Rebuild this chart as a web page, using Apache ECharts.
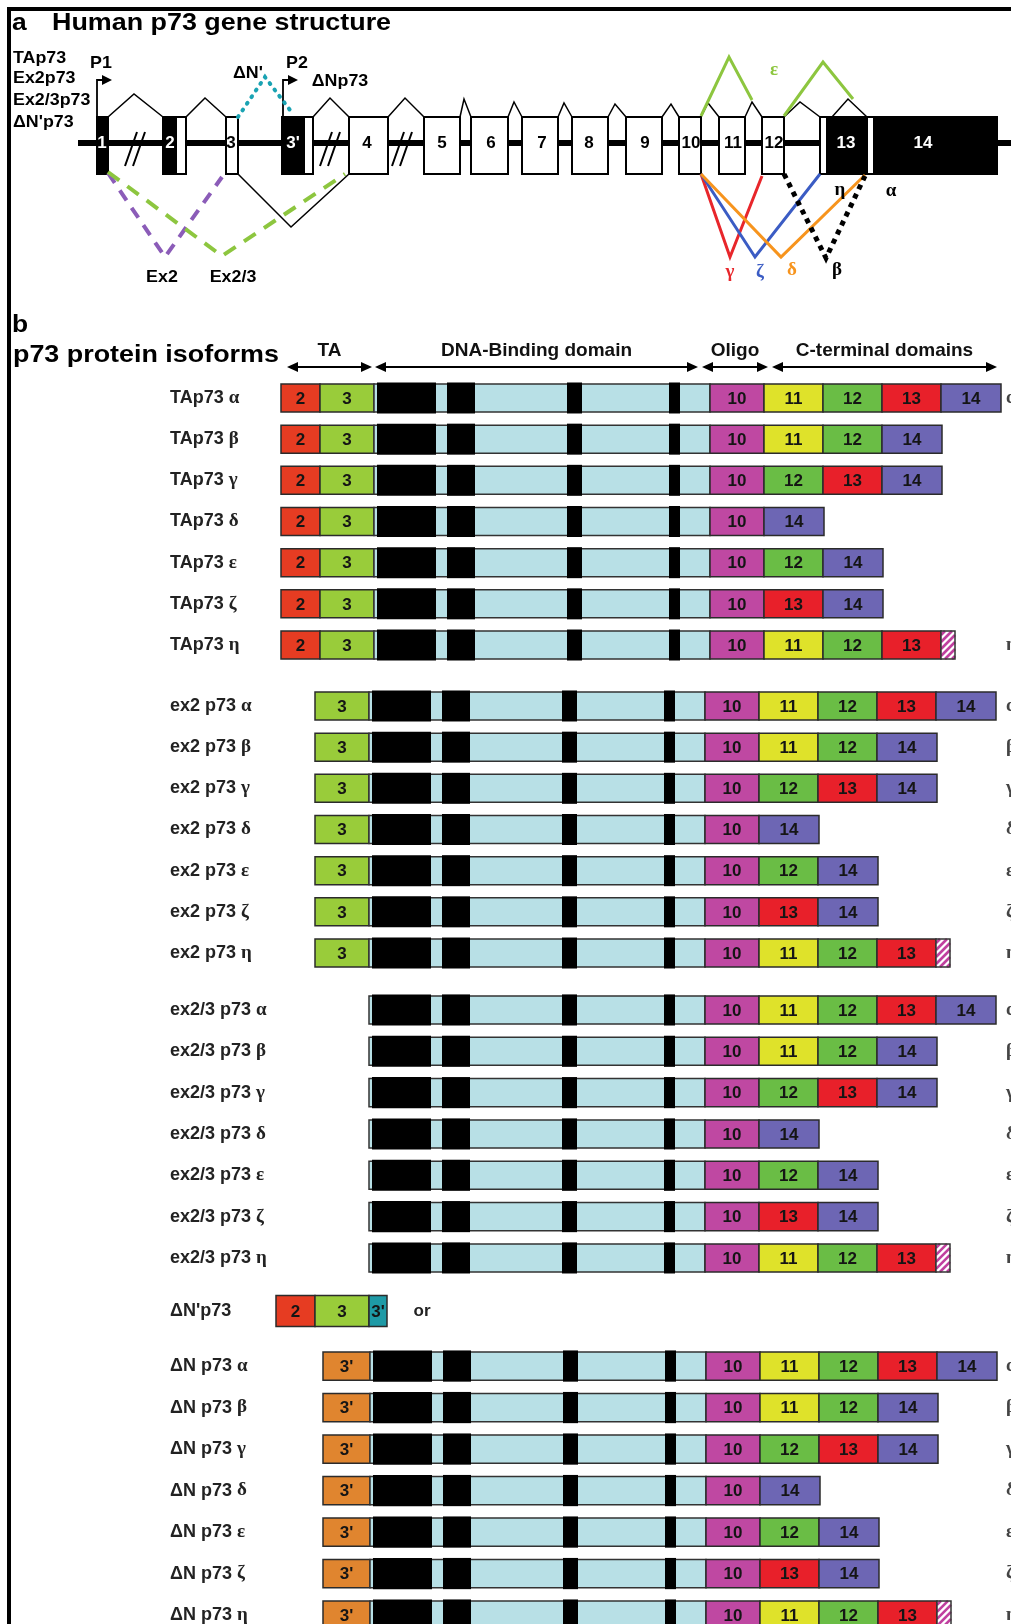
<!DOCTYPE html>
<html><head><meta charset="utf-8">
<script src="https://cdn.jsdelivr.net/npm/echarts@6/dist/echarts.min.js"></script>
<style>html,body{margin:0;padding:0;background:#fff}#c{width:1011px;height:1624px}</style>
</head><body><div id="c"></div>
<script>
// ================= DATA: panel a (gene structure, genomic axis units) =================
const exonNames      = ['1','2','3',"3'",'4','5','6','7','8','9','10','11','12','13','14'];
const exonStart      = [97,163,226,282,349,424,471,522,572,626,679,719,762,820,867];
const exonEnd        = [108,186,238,313,388,460,508,558,608,662,701,745,784,867,997];
const exonCodingFrom = [97,163,null,282,null,null,null,null,null,null,null,null,null,826,873];
const exonCodingTo   = [108,177,null,305,null,null,null,null,null,null,null,null,null,867,997];
const exonLabelAt    = [102,170,231,293,367,442,491,542,589,645,691,733,774,846,923];
// intron chevrons: [from, peak x, peak level, to]
const intronArcs = [[108,134,94,163],[186,205,98,226],[313,330,98,349],[388,405,98,424],[460,464,99,471],
  [508,514,102,522],[558,564,103,572],[608,615,104,626],[662,671,104,679],[701,708,103,719],
  [745,752,102,762],[784,800,102,820],[832,848,99,867]];
const intronBreaks = [135,330,402];
const promoters = ['P1','P2'];
const promoterAt = [97,283];
// alternative splice paths (points on gene axis)
const spliceNames = ["ΔN'",'ε','ε','Ex2','Ex2/3','ΔNp73','γ','ζ','δ','β'];
const splicePaths = [
  [[238,117],[265,77],[293,114]],
  [[701,116],[729,57],[752,100]],
  [[784,116],[823,62],[853,99]],
  [[108,173],[165,257],[222,177]],
  [[108,172],[222,256],[345,174]],
  [[238,174],[291,227],[349,174]],
  [[701,174],[730,257],[762,176]],
  [[701,174],[755,257],[820,174]],
  [[701,174],[781,257],[865,175]],
  [[784,174],[826,258],[865,176]]
];
const geneNotes  = ['TAp73','Ex2p73','Ex2/3p73',"ΔN'p73",'P1','P2',"ΔN'",'ΔNp73','Ex2','Ex2/3','ε','γ','ζ','δ','β','η','α'];
const geneNoteX  = [13,13,13,13,101,297,248,340,162,233,774,730,760,792,837,840,891];
const geneNoteY  = [58,78,100,122,63,63,73,81,277,277,70,272,272,270,270,190,191];

// ================= DATA: panel b (protein isoforms) =================
const greek = ['α','β','γ','δ','ε','ζ','η'];
const cTermExons = [['11','12','13','14'],['11','12','14'],['12','13','14'],['14'],['12','14'],['13','14'],['11','12','13','tail']];
const groupNames = ['TAp73 ','ex2 p73 ','ex2/3 p73 ','ΔN p73 '];
const groupNTerm = [['2','3'],['3'],[],["3'"]];
const groupStart = [281,315,369,323];
const exonLength = {'2':39,'3':54,"3'":47,'3t':18,'DBD':336,'10':54,'11':59,'12':59,'13':59,'14':60,'tail':14};
const dbdMotifFrom = [3,73,193,295];
const dbdMotifTo   = [62,101,208,306];
const dNprimeName = "ΔN'p73";
const dNprimeExons = ['2','3','3t'];
const dNprimeStart = 276;
const headerNames = ['TA','DNA-Binding domain','Oligo','C-terminal domains'];
const headerFrom  = [287,375,702,772];
const headerTo    = [372,698,768,997];
const edgeTagShown = [[1,0,0,0,0,0,1],[1,1,1,1,1,1,1],[1,1,1,1,1,1,1],[1,1,1,1,1,1,1]];

// ================= STYLE =================
const SANS = '"Liberation Sans", Arial, sans-serif';
const SERIF = '"Liberation Serif", "Times New Roman", serif';
const exonColor = {'2':'#e63c22','3':'#99cc3a',"3'":'#e0852f','3t':'#1e9aa6','10':'#bf48a2','11':'#dfe22a','12':'#6abd45','13':'#e8202a','14':'#6d66b4'};
const exonText = {'3t':"3'"};
const DBD_FILL = '#b8e0e6';
const spliceColor = ['#1aa3b3','#8dc63f','#8dc63f','#8b5cb8','#8dc63f','#000','#e8262b','#3b5cc4','#f7941d','#000'];
const spliceWidth = [4,3,3,4,4,1.5,3,3,3,5];
const spliceDash  = [[1,7],null,null,[12,9],[14,10],null,null,null,null,[5,5]];
const noteColor = {'ε':'#8dc63f','γ':'#e8262b','ζ':'#3b5cc4','δ':'#f7941d'};
const EX_TOP = 117, EX_BOT = 174, BB_Y = 143;

function T(x, y, s, font, fill, align, sx) {
  return {type:'text', x:x, y:y, scaleX: sx || 1,
    style:{text:s, font:font, fill:fill || '#000', textAlign: align || 'center', textVerticalAlign:'middle',
      align: align || 'center', verticalAlign:'middle'}};
}

// ---------- build protein rows ----------
function buildSegments(start, nTerm, withCore, cTerm) {
  const segs = []; let x = start;
  const add = t => { segs.push({t:t, x0:x, x1:x + exonLength[t]}); x += exonLength[t]; };
  nTerm.forEach(add);
  if (withCore) { add('DBD'); add('10'); cTerm.forEach(add); }
  return segs;
}
const groupRows = groupNames.map((g, gi) => greek.map((gr, k) => buildSegments(groupStart[gi], groupNTerm[gi], true, cTermExons[k])));
const dNprimeRows = [buildSegments(dNprimeStart, dNprimeExons, false, [])];

function rowRenderer(rows, tags, ratio, trailer) {
  return function (params, api) {
    const r = api.value(1);
    const segs = rows[r];
    const yc = api.coord([0, r])[1];
    const bh = api.size([0, 1])[1] * ratio;
    const y0 = yc - bh / 2;
    const kids = [];
    segs.forEach(s => {
      const xa = api.coord([s.x0, r])[0], xb = api.coord([s.x1, r])[0];
      if (s.t === 'DBD') {
        kids.push({type:'rect', shape:{x:xa, y:y0, width:xb - xa, height:bh}, style:{fill:DBD_FILL, stroke:'#333', lineWidth:1.5}});
        dbdMotifFrom.forEach((m, i) => {
          const ma = api.coord([s.x0 + m, r])[0], mb = api.coord([s.x0 + dbdMotifTo[i], r])[0];
          kids.push({type:'rect', shape:{x:ma, y:y0 - 1.5, width:mb - ma, height:bh + 3}, style:{fill:'#000'}});
        });
      } else if (s.t === 'tail') {
        kids.push({type:'rect', shape:{x:xa, y:y0, width:xb - xa, height:bh}, style:{fill:'#fff'}});
        const yb = y0 + bh;
        for (let c = xa + y0 + 4; c < xb + yb; c += 7) {
          const p = Math.max(xa, c - yb), q = Math.min(xb, c - y0);
          if (q > p) kids.push({type:'line', shape:{x1:p, y1:c - p, x2:q, y2:c - q}, style:{stroke:'#c0409f', lineWidth:2.6}});
        }
        kids.push({type:'rect', shape:{x:xa, y:y0, width:xb - xa, height:bh}, style:{fill:'none', stroke:'#333', lineWidth:1.5}});
      } else {
        kids.push({type:'rect', shape:{x:xa, y:y0, width:xb - xa, height:bh}, style:{fill:exonColor[s.t], stroke:'#2b2b2b', lineWidth:1.5}});
        kids.push(T((xa + xb) / 2, yc + 1, exonText[s.t] || s.t, 'bold 17px ' + SANS, '#151515'));
      }
    });
    if (tags && tags[r]) {
      kids.push(T(api.coord([1006, r])[0], yc, greek[r], 'bold 19px ' + SERIF, '#444', 'left'));
    }
    if (trailer) {
      const last = segs[segs.length - 1];
      kids.push(T(api.coord([last.x1 + 35, r])[0], yc, trailer, 'bold 17px ' + SANS, '#222'));
    }
    return {type:'group', children:kids};
  };
}

function labelFmt(v) {
  const g = v.slice(-1);
  if (greek.indexOf(g) >= 0) return '{n|' + v.slice(0, -1) + '}{g|' + g + '}';
  return '{n|' + v + '}';
}
function catAxis(gi, labels) {
  return {gridIndex:gi, type:'category', inverse:true, data:labels,
    axisLine:{show:false}, axisTick:{show:false}, splitLine:{show:false},
    axisLabel:{inside:true, margin:170, interval:0, formatter:labelFmt,
      rich:{n:{fontFamily:SANS, fontWeight:'bold', fontSize:18, color:'#222'},
            g:{fontFamily:SERIF, fontWeight:'bold', fontSize:19, color:'#222'}}}};
}

// ---------- grids ----------
const grids = [
  {left:0, width:1011, top:0, height:300},
  {left:0, width:1011, top:377.4, height:288.2},
  {left:0, width:1011, top:685.4, height:288.2},
  {left:0, width:1011, top:989.3, height:289.3},
  {left:0, width:1011, top:1290.5, height:41},
  {left:0, width:1011, top:1345.3, height:290.5}
].map(g => Object.assign(g, {outerBoundsMode:'none', containLabel:false}));

const xAxes = grids.map((g, i) => ({gridIndex:i, type:'value', min:0, max:1011, show:false}));
const yAxes = [
  {gridIndex:0, type:'value', min:0, max:300, inverse:true, show:false},
  catAxis(1, greek.map(g => groupNames[0] + g)),
  catAxis(2, greek.map(g => groupNames[1] + g)),
  catAxis(3, greek.map(g => groupNames[2] + g)),
  catAxis(4, [dNprimeName]),
  catAxis(5, greek.map(g => groupNames[3] + g))
];

const series = [];
// backbone
series.push({type:'custom', xAxisIndex:0, yAxisIndex:0, clip:false, data:[[78, 1011]],
  renderItem:(p, api) => {
    const a = api.coord([api.value(0), BB_Y]), b = api.coord([api.value(1), BB_Y]);
    return {type:'line', shape:{x1:a[0], y1:a[1], x2:b[0], y2:b[1]}, style:{stroke:'#000', lineWidth:6}};
  }});
// intron breaks
series.push({type:'custom', xAxisIndex:0, yAxisIndex:0, clip:false, data:intronBreaks.map(v => [v]),
  renderItem:(p, api) => {
    const x = api.coord([api.value(0), 0])[0];
    const y1 = api.coord([0, 166])[1], y2 = api.coord([0, 132])[1];
    return {type:'group', children:[
      {type:'line', shape:{x1:x - 10, y1:y1, x2:x + 2, y2:y2}, style:{stroke:'#000', lineWidth:2}},
      {type:'line', shape:{x1:x - 2, y1:y1, x2:x + 10, y2:y2}, style:{stroke:'#000', lineWidth:2}}]};
  }});
// exons
series.push({type:'custom', xAxisIndex:0, yAxisIndex:0, clip:false,
  data:exonNames.map((n, i) => [exonStart[i], exonEnd[i], i]),
  renderItem:(p, api) => {
    const i = api.value(2);
    const a = api.coord([api.value(0), EX_TOP]), b = api.coord([api.value(1), EX_BOT]);
    const box = {x:a[0], y:a[1], width:b[0] - a[0], height:b[1] - a[1]};
    const kids = [{type:'rect', shape:box, style:{fill:'#fff'}}];
    let white = false;
    if (exonCodingFrom[i] != null) {
      const c = api.coord([exonCodingFrom[i], EX_TOP]), d = api.coord([exonCodingTo[i], EX_BOT]);
      kids.push({type:'rect', shape:{x:c[0], y:c[1], width:d[0] - c[0], height:d[1] - c[1]}, style:{fill:'#000'}});
      white = exonLabelAt[i] >= exonCodingFrom[i] && exonLabelAt[i] <= exonCodingTo[i];
    }
    kids.push({type:'rect', shape:box, style:{fill:'none', stroke:'#000', lineWidth:2}});
    const l = api.coord([exonLabelAt[i], BB_Y]);
    kids.push(T(l[0], l[1], exonNames[i], 'bold 17px ' + SANS, white ? '#fff' : '#000'));
    return {type:'group', children:kids};
  }});
// intron chevrons
series.push({type:'custom', xAxisIndex:0, yAxisIndex:0, clip:false, data:intronArcs,
  renderItem:(p, api) => ({type:'polyline', shape:{points:[
      api.coord([api.value(0), EX_TOP]), api.coord([api.value(1), api.value(2)]), api.coord([api.value(3), EX_TOP])]},
    style:{stroke:'#000', lineWidth:1.5, fill:null}})});
// promoters
series.push({type:'custom', xAxisIndex:0, yAxisIndex:0, clip:false, data:promoterAt.map(v => [v]),
  renderItem:(p, api) => {
    const b = api.coord([api.value(0), EX_TOP]), t = api.coord([api.value(0), 80]);
    return {type:'group', children:[
      {type:'polyline', shape:{points:[b, t, [t[0] + 6, t[1]]]}, style:{stroke:'#000', lineWidth:1.8, fill:null}},
      {type:'polygon', shape:{points:[[t[0] + 5, t[1] - 5], [t[0] + 15, t[1]], [t[0] + 5, t[1] + 5]]}, style:{fill:'#000'}}]};
  }});
// splice paths
series.push({type:'custom', xAxisIndex:0, yAxisIndex:0, clip:false, data:splicePaths.map((s, i) => [i]),
  renderItem:(p, api) => {
    const i = api.value(0);
    return {type:'polyline', shape:{points:splicePaths[i].map(q => api.coord(q))},
      style:{stroke:spliceColor[i], lineWidth:spliceWidth[i], lineDash:spliceDash[i], fill:null,
        lineCap: i === 0 ? 'round' : 'butt', lineJoin:'miter'}};
  }});
// gene notes
series.push({type:'custom', xAxisIndex:0, yAxisIndex:0, clip:false, data:geneNotes.map((n, i) => [geneNoteX[i], geneNoteY[i], i]),
  renderItem:(p, api) => {
    const i = api.value(2); const c = api.coord([api.value(0), api.value(1)]);
    const s = geneNotes[i];
    const isGreek = greek.indexOf(s) >= 0;
    return T(c[0], c[1], s, isGreek ? 'bold 19px ' + SERIF : 'bold 17px ' + SANS,
      noteColor[s] || '#000', i < 4 ? 'left' : 'center', isGreek ? 1 : 1.05);
  }});
// protein header arrows
series.push({type:'custom', xAxisIndex:1, yAxisIndex:1, clip:false, data:headerNames.map((n, i) => [headerFrom[i], headerTo[i], i]),
  renderItem:(p, api) => {
    const i = api.value(2);
    const y0 = api.coord([0, 0])[1];
    const ay = y0 - 31, ty = y0 - 47;
    const xa = api.coord([api.value(0), 0])[0], xb = api.coord([api.value(1), 0])[0];
    return {type:'group', children:[
      {type:'line', shape:{x1:xa + 6, y1:ay, x2:xb - 6, y2:ay}, style:{stroke:'#000', lineWidth:2}},
      {type:'polygon', shape:{points:[[xa, ay], [xa + 11, ay - 5], [xa + 11, ay + 5]]}, style:{fill:'#000'}},
      {type:'polygon', shape:{points:[[xb, ay], [xb - 11, ay - 5], [xb - 11, ay + 5]]}, style:{fill:'#000'}},
      T((xa + xb) / 2, ty, headerNames[i], 'bold 19px ' + SANS, '#111')]};
  }});
// protein rows
groupRows.forEach((rows, gi) => {
  const axisIdx = gi < 3 ? gi + 1 : 5;
  series.push({type:'custom', xAxisIndex:axisIdx, yAxisIndex:axisIdx, clip:false,
    data:rows.map((s, i) => [s[0].x0, i]), encode:{x:0, y:1},
    renderItem:rowRenderer(rows, edgeTagShown[gi], 0.68)});
});
series.push({type:'custom', xAxisIndex:4, yAxisIndex:4, clip:false,
  data:dNprimeRows.map((s, i) => [s[0].x0, i]), encode:{x:0, y:1},
  renderItem:rowRenderer(dNprimeRows, null, 0.76, 'or')});

const chart = echarts.init(document.getElementById('c'), null, {renderer:'canvas', width:1011, height:1624});
chart.setOption({
  animation:false,
  backgroundColor:'#fff',
  grid:grids, xAxis:xAxes, yAxis:yAxes, series:series,
  graphic:[
    {type:'rect', shape:{x:7, y:7, width:4, height:1617}, style:{fill:'#000'}},
    {type:'rect', shape:{x:7, y:7, width:1004, height:4}, style:{fill:'#000'}},
    T(12, 23.5, 'a', 'bold 24px ' + SANS, '#000', 'left', 1.1),
    T(52, 23.5, 'Human p73 gene structure', 'bold 24px ' + SANS, '#000', 'left', 1.12),
    T(12, 325, 'b', 'bold 24px ' + SANS, '#000', 'left', 1.1),
    T(13, 355, 'p73 protein isoforms', 'bold 24px ' + SANS, '#000', 'left', 1.12)
  ]
});
</script></body></html>
